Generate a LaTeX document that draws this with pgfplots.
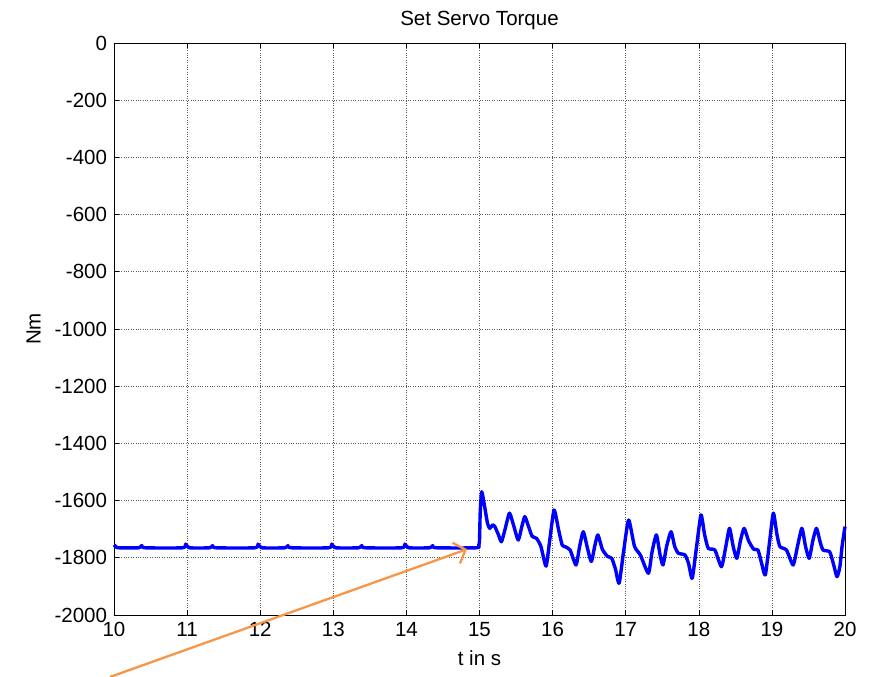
\documentclass[border=0pt]{standalone}
\usepackage{fontspec}
\setmainfont{Liberation Sans}
\usepackage{pgfplots}
\pgfplotsset{compat=1.18}
\usetikzlibrary{arrows.meta}
\definecolor{arrowor}{RGB}{247,150,70}
\begin{document}
\fontsize{20.5bp}{24bp}\selectfont
\begin{tikzpicture}
\begin{axis}[
  scale only axis,
  width=731bp, height=572bp,
  xmin=10, xmax=20, ymin=-2000, ymax=0,
  xtick={10,11,...,20},
  ytick={-2000,-1800,...,0},
  /pgf/number format/assume math mode=true,
  /pgf/number format/1000 sep={},
  tick label style={font=\fontsize{20.5bp}{24bp}\selectfont},
  label style={font=\fontsize{20.5bp}{24bp}\selectfont},
  title style={font=\fontsize{20.5bp}{24bp}\selectfont},
  tick pos=both, tick align=inside,
  major tick length=5bp,
  axis line style={line width=0.9bp},
  every tick/.style={black, line width=0.6bp},
  grid=major,
  major grid style={dotted, gray!70!black, line width=0.6bp},
  title={Set Servo Torque},
  xlabel={t in s},
  ylabel={Nm},
  clip=false,
]
\addplot[color={rgb,255:red,0;green,0;blue,255}, line width=3.4bp, line join=round, smooth, tension=0.35] coordinates {
(10.00,-1755) (10.03,-1762) (10.06,-1765) (10.34,-1765) (10.38,-1757) (10.42,-1765)
(10.94,-1765) (10.98,-1752) (11.03,-1765) (11.31,-1765) (11.35,-1757) (11.39,-1765)
(11.93,-1765) (11.97,-1752) (12.02,-1765) (12.34,-1765) (12.38,-1757) (12.42,-1765)
(12.94,-1765) (12.98,-1752) (13.03,-1765) (13.35,-1765) (13.39,-1757) (13.43,-1765)
(13.94,-1765) (13.98,-1752) (14.03,-1765) (14.32,-1765) (14.36,-1757) (14.40,-1765)
(14.96,-1765) (14.99,-1755) (15.00,-1740) (15.01,-1640) (15.03,-1569) (15.07,-1621)
(15.11,-1680) (15.14,-1697) (15.18,-1685) (15.21,-1691) (15.26,-1720) (15.30,-1744)
(15.35,-1700) (15.41,-1644) (15.47,-1690) (15.53,-1738) (15.58,-1690) (15.62,-1656)
(15.67,-1690) (15.72,-1725) (15.78,-1732) (15.84,-1760) (15.91,-1829) (15.96,-1740)
(16.02,-1633) (16.08,-1700) (16.13,-1755) (16.17,-1761) (16.24,-1773) (16.32,-1825)
(16.37,-1760) (16.42,-1709) (16.48,-1770) (16.53,-1813) (16.58,-1755) (16.62,-1720)
(16.68,-1770) (16.75,-1795) (16.81,-1802) (16.86,-1840) (16.91,-1889) (16.97,-1780)
(17.04,-1668) (17.12,-1760) (17.20,-1790) (17.31,-1854) (17.36,-1780) (17.42,-1720)
(17.47,-1790) (17.51,-1825) (17.56,-1760) (17.62,-1709) (17.67,-1760) (17.72,-1784)
(17.81,-1790) (17.86,-1820) (17.91,-1872) (17.97,-1760) (18.03,-1650) (18.08,-1720)
(18.13,-1767) (18.22,-1773) (18.31,-1831) (18.37,-1760) (18.42,-1697) (18.47,-1760)
(18.52,-1802) (18.57,-1740) (18.62,-1697) (18.68,-1740) (18.75,-1770) (18.81,-1773)
(18.86,-1820) (18.91,-1860) (18.97,-1740) (19.02,-1644) (19.07,-1720) (19.11,-1761)
(19.20,-1773) (19.29,-1825) (19.35,-1760) (19.41,-1697) (19.46,-1760) (19.51,-1802)
(19.56,-1740) (19.61,-1697) (19.66,-1745) (19.70,-1773) (19.79,-1779) (19.84,-1820)
(19.89,-1866) (19.93,-1831) (19.96,-1760) (20.00,-1691)
};
\draw[arrowor, line width=2.3bp, -{Straight Barb[length=10bp,width=22bp]}]
  (axis cs:9.945,-2216.8) -- (axis cs:14.83,-1770);
\coordinate (BL) at (axis cs:8.4405,-2216.8);
\coordinate (TR) at (axis cs:20.342,150.3);
\end{axis}
\pgfresetboundingbox
\useasboundingbox (BL) rectangle (TR);
\end{tikzpicture}
\end{document}
